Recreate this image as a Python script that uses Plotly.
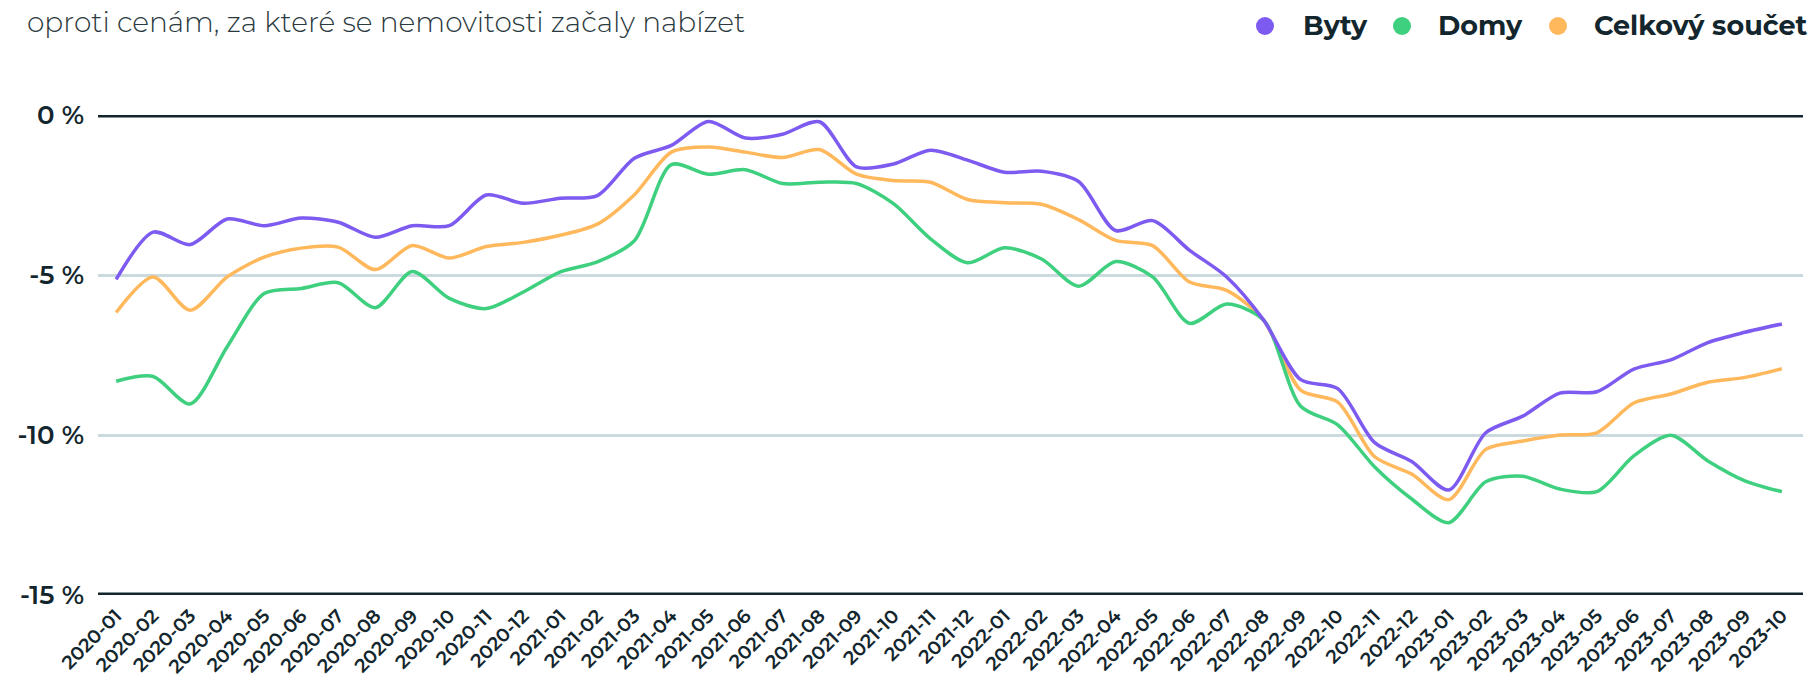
import plotly.graph_objects as go

months = [f"{y}-{m:02d}" for y in range(2020, 2024) for m in range(1, 13)][:46]

series_names = ["Byty", "Domy", "Celkový součet"]

byty = [-5.14, -3.66, -4.05, -3.25, -3.46, -3.22, -3.35, -3.82, -3.46, -3.46,
        -2.50, -2.76, -2.60, -2.52, -1.35, -0.95, -0.20, -0.72, -0.60, -0.21,
        -1.62, -1.53, -1.10, -1.41, -1.79, -1.76, -2.08, -3.61, -3.30, -4.23,
        -5.06, -6.41, -8.27, -8.55, -10.24, -10.83, -11.72, -9.93, -9.41, -8.69,
        -8.65, -7.94, -7.65, -7.11, -6.79, -6.53]

domy = [-8.32, -8.17, -9.03, -7.24, -5.58, -5.42, -5.24, -6.02, -4.89, -5.73,
        -6.05, -5.53, -4.90, -4.59, -3.93, -1.55, -1.85, -1.71, -2.14, -2.10,
        -2.14, -2.77, -3.87, -4.62, -4.15, -4.50, -5.35, -4.58, -5.06, -6.51,
        -5.91, -6.41, -9.10, -9.68, -11.00, -12.00, -12.74, -11.46, -11.29, -11.69,
        -11.77, -10.65, -10.01, -10.81, -11.43, -11.77]

celkem = [-6.17, -5.06, -6.10, -5.06, -4.44, -4.16, -4.13, -4.83, -4.08, -4.47,
          -4.11, -3.98, -3.76, -3.41, -2.49, -1.16, -1.00, -1.16, -1.33, -1.08,
          -1.85, -2.05, -2.10, -2.64, -2.74, -2.79, -3.27, -3.92, -4.08, -5.22,
          -5.48, -6.41, -8.60, -8.97, -10.68, -11.22, -12.02, -10.45, -10.19, -10.00,
          -9.93, -9.00, -8.72, -8.35, -8.20, -7.93]

y_ticks = [0, -5, -10, -15]
y_tick_labels = ["0 %", "-5 %", "-10 %", "-15 %"]

title_text = "oproti cenám, za které se nemovitosti začaly nabízet"

colors = ["#7d5af0", "#3ecf7f", "#ffb85c"]
dark = "#13262d"
grid = "#cbdadf"
FONT = "Montserrat, Noto Sans, sans-serif"

L, R, T, B = 98, 12, 115, 87
PW, PH = 1815 - L - R, 682 - T - B

fig = go.Figure()
for name, vals, col in [(series_names[2], celkem, colors[2]),
                        (series_names[1], domy, colors[1]),
                        (series_names[0], byty, colors[0])]:
    fig.add_trace(go.Scatter(
        x=months, y=vals, name=name, mode="lines",
        line=dict(color=col, width=3.5, shape="spline", smoothing=0.8),
        showlegend=False, hoverinfo="x+y+name"))

fig.update_layout(
    width=1815, height=682, autosize=False,
    margin=dict(l=L, r=R, t=T, b=B, autoexpand=False),
    plot_bgcolor="white", paper_bgcolor="white",
    font=dict(family=FONT, color=dark),
    showlegend=False,
)

fig.update_xaxes(
    type="category", range=[-0.49, 45.57], automargin=False,
    showgrid=False, zeroline=False, showline=False, ticks="",
    tickangle=-45, tickfont=dict(size=19, color=dark, weight=600),
    ticklabelstandoff=5,
)
fig.update_yaxes(
    range=[-15, 0], tickvals=y_ticks, ticktext=y_tick_labels, automargin=False,
    showgrid=True, gridcolor=grid, gridwidth=3,
    zeroline=False, showline=False, ticks="",
    tickfont=dict(size=26, color=dark, weight=600),
    ticklabelstandoff=13,
)

for yv in (y_ticks[0], y_ticks[-1]):
    fig.add_shape(type="line", xref="paper", yref="y", x0=0, x1=1, y0=yv, y1=yv,
                  line=dict(color=dark, width=5), layer="below")

fig.add_annotation(text=title_text, xref="paper", yref="paper",
                   x=(25 - L) / PW, y=1 + (T - 22) / PH, xanchor="left", yanchor="middle",
                   showarrow=False, font=dict(size=28, color="#2b3a40", weight=300))

legend_items = [(series_names[0], colors[0], 1265, 1301),
                (series_names[1], colors[1], 1402, 1436),
                (series_names[2], colors[2], 1558, 1592)]
ly = 1 + (T - 26) / PH
for name, col, cx, tx in legend_items:
    fig.add_shape(type="circle", xref="paper", yref="paper",
                  xsizemode="pixel", ysizemode="pixel",
                  xanchor=(cx - L) / PW, yanchor=ly,
                  x0=-9, x1=9, y0=-9, y1=9,
                  fillcolor=col, line=dict(width=0))
    fig.add_annotation(text=f"<b>{name}</b>", xref="paper", yref="paper",
                       x=(tx - L) / PW, y=ly,
                       xanchor="left", yanchor="middle", showarrow=False,
                       font=dict(size=27, color=dark))

fig.write_html("out.html", config={"displayModeBar": False},
               post_script="document.body.style.margin='0';document.body.style.overflow='hidden';")
